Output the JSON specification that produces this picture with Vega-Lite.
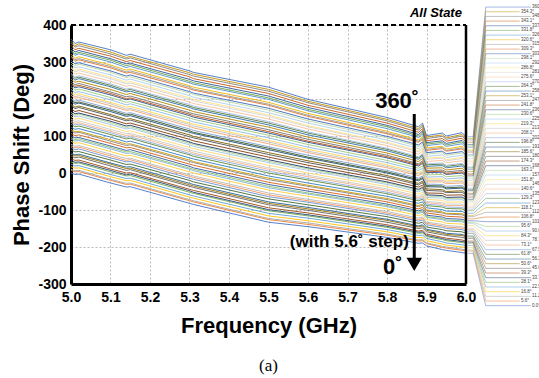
{
"$schema":"https://vega.github.io/schema/vega-lite/v6.json",
"width":395,"height":259,"autosize":"none",
"padding":{"left":71,"top":25,"right":73,"bottom":94},
"background":"white",
"title":{"text":"(a)","orient":"bottom","font":"Liberation Serif","fontSize":17,"fontWeight":"normal","color":"#000","offset":22,"anchor":"middle"},
"config":{"view":{"stroke":null},"font":"Liberation Sans",
"axis":{"labelFont":"Liberation Sans","labelFontWeight":"bold","labelFontSize":14,"labelColor":"#000","labelOverlap":false,"titleFont":"Liberation Sans","titleFontWeight":"bold","titleFontSize":22,"titleColor":"#000","ticks":false,"domainColor":"#000","domainWidth":3,"gridColor":"#a8a8a8","gridDash":[2,2],"gridWidth":0.8}},
"resolve":{"axis":{"x":"independent","y":"independent"}},
"datasets":{
"phase":[
{"f":5.0,"p0":0,"p1":7,"p2":10,"p3":17,"p4":24,"p5":30,"p6":34,"p7":39,"p8":46,"p9":51,"p10":54,"p11":62,"p12":69,"p13":73,"p14":78,"p15":86,"p16":92,"p17":96,"p18":101,"p19":107,"p20":114,"p21":118,"p22":124,"p23":132,"p24":137,"p25":141,"p26":146,"p27":153,"p28":159,"p29":164,"p30":168,"p31":174,"p32":182,"p33":186,"p34":194,"p35":198,"p36":202,"p37":210,"p38":215,"p39":219,"p40":226,"p41":233,"p42":239,"p43":243,"p44":248,"p45":254,"p46":261,"p47":266,"p48":269,"p49":277,"p50":284,"p51":287,"p52":294,"p53":300,"p54":305,"p55":313,"p56":316,"p57":321,"p58":329,"p59":333,"p60":338,"p61":345,"p62":351,"p63":356,"p64":362},
{"f":5.01,"p0":-4,"p1":3,"p2":6,"p3":13,"p4":19,"p5":26,"p6":29,"p7":34,"p8":41,"p9":46,"p10":49,"p11":57,"p12":63,"p13":68,"p14":72,"p15":80,"p16":86,"p17":90,"p18":95,"p19":101,"p20":108,"p21":111,"p22":118,"p23":125,"p24":130,"p25":134,"p26":139,"p27":145,"p28":152,"p29":156,"p30":160,"p31":166,"p32":174,"p33":178,"p34":186,"p35":190,"p36":194,"p37":202,"p38":206,"p39":211,"p40":217,"p41":224,"p42":230,"p43":234,"p44":238,"p45":245,"p46":251,"p47":256,"p48":259,"p49":267,"p50":273,"p51":277,"p52":284,"p53":290,"p54":295,"p55":302,"p56":306,"p57":310,"p58":318,"p59":322,"p60":327,"p61":333,"p62":340,"p63":344,"p64":350},
{"f":5.02,"p0":-3,"p1":4,"p2":7,"p3":14,"p4":20,"p5":27,"p6":30,"p7":35,"p8":43,"p9":47,"p10":51,"p11":58,"p12":65,"p13":70,"p14":74,"p15":82,"p16":88,"p17":92,"p18":96,"p19":103,"p20":110,"p21":113,"p22":120,"p23":127,"p24":132,"p25":136,"p26":141,"p27":148,"p28":154,"p29":159,"p30":162,"p31":169,"p32":177,"p33":181,"p34":189,"p35":192,"p36":197,"p37":204,"p38":209,"p39":214,"p40":220,"p41":227,"p42":233,"p43":237,"p44":242,"p45":248,"p46":255,"p47":259,"p48":263,"p49":270,"p50":277,"p51":281,"p52":287,"p53":294,"p54":298,"p55":306,"p56":309,"p57":314,"p58":322,"p59":326,"p60":331,"p61":337,"p62":344,"p63":349,"p64":354},
{"f":5.1,"p0":-27,"p1":-20,"p2":-17,"p3":-10,"p4":-4,"p5":3,"p6":7,"p7":11,"p8":19,"p9":24,"p10":27,"p11":35,"p12":41,"p13":46,"p14":51,"p15":58,"p16":65,"p17":69,"p18":73,"p19":80,"p20":86,"p21":90,"p22":97,"p23":104,"p24":109,"p25":113,"p26":118,"p27":125,"p28":131,"p29":136,"p30":140,"p31":146,"p32":154,"p33":158,"p34":166,"p35":170,"p36":174,"p37":182,"p38":187,"p39":191,"p40":198,"p41":204,"p42":211,"p43":215,"p44":219,"p45":226,"p46":233,"p47":237,"p48":241,"p49":248,"p50":255,"p51":259,"p52":265,"p53":272,"p54":276,"p55":284,"p56":288,"p57":292,"p58":300,"p59":305,"p60":309,"p61":316,"p62":322,"p63":327,"p64":333},
{"f":5.14,"p0":-38,"p1":-31,"p2":-28,"p3":-21,"p4":-15,"p5":-8,"p6":-5,"p7":0,"p8":7,"p9":12,"p10":16,"p11":23,"p12":30,"p13":34,"p14":39,"p15":46,"p16":53,"p17":57,"p18":61,"p19":68,"p20":74,"p21":78,"p22":84,"p23":92,"p24":96,"p25":101,"p26":106,"p27":112,"p28":119,"p29":123,"p30":127,"p31":133,"p32":141,"p33":145,"p34":153,"p35":157,"p36":161,"p37":169,"p38":173,"p39":178,"p40":184,"p41":191,"p42":198,"p43":201,"p44":206,"p45":212,"p46":219,"p47":223,"p48":227,"p49":234,"p50":241,"p51":245,"p52":251,"p53":258,"p54":262,"p55":270,"p56":273,"p57":278,"p58":285,"p59":290,"p60":295,"p61":301,"p62":308,"p63":312,"p64":318},
{"f":5.15,"p0":-37,"p1":-30,"p2":-27,"p3":-20,"p4":-14,"p5":-7,"p6":-3,"p7":1,"p8":9,"p9":13,"p10":17,"p11":24,"p12":31,"p13":36,"p14":40,"p15":48,"p16":54,"p17":58,"p18":63,"p19":69,"p20":76,"p21":79,"p22":86,"p23":94,"p24":98,"p25":103,"p26":107,"p27":114,"p28":121,"p29":125,"p30":129,"p31":135,"p32":143,"p33":147,"p34":155,"p35":159,"p36":163,"p37":171,"p38":175,"p39":180,"p40":187,"p41":193,"p42":200,"p43":203,"p44":208,"p45":215,"p46":221,"p47":226,"p48":229,"p49":237,"p50":243,"p51":247,"p52":254,"p53":260,"p54":265,"p55":272,"p56":276,"p57":281,"p58":288,"p59":293,"p60":297,"p61":304,"p62":311,"p63":315,"p64":321},
{"f":5.3,"p0":-82,"p1":-75,"p2":-72,"p3":-65,"p4":-59,"p5":-52,"p6":-48,"p7":-44,"p8":-36,"p9":-32,"p10":-28,"p11":-20,"p12":-14,"p13":-9,"p14":-5,"p15":3,"p16":10,"p17":13,"p18":18,"p19":24,"p20":31,"p21":35,"p22":41,"p23":49,"p24":53,"p25":58,"p26":63,"p27":69,"p28":76,"p29":80,"p30":84,"p31":91,"p32":98,"p33":103,"p34":110,"p35":114,"p36":119,"p37":126,"p38":131,"p39":135,"p40":142,"p41":149,"p42":155,"p43":159,"p44":163,"p45":170,"p46":177,"p47":181,"p48":185,"p49":192,"p50":199,"p51":203,"p52":209,"p53":216,"p54":220,"p55":228,"p56":232,"p57":236,"p58":244,"p59":248,"p60":253,"p61":260,"p62":266,"p63":271,"p64":276},
{"f":5.31,"p0":-85,"p1":-78,"p2":-75,"p3":-68,"p4":-62,"p5":-55,"p6":-52,"p7":-47,"p8":-39,"p9":-35,"p10":-31,"p11":-24,"p12":-17,"p13":-12,"p14":-8,"p15":0,"p16":6,"p17":10,"p18":14,"p19":21,"p20":28,"p21":31,"p22":38,"p23":45,"p24":50,"p25":54,"p26":59,"p27":66,"p28":72,"p29":77,"p30":80,"p31":87,"p32":95,"p33":99,"p34":107,"p35":110,"p36":115,"p37":122,"p38":127,"p39":132,"p40":138,"p41":145,"p42":151,"p43":155,"p44":160,"p45":166,"p46":173,"p47":177,"p48":181,"p49":188,"p50":195,"p51":199,"p52":205,"p53":212,"p54":216,"p55":224,"p56":227,"p57":232,"p58":240,"p59":244,"p60":249,"p61":255,"p62":262,"p63":267,"p64":272},
{"f":5.5,"p0":-133,"p1":-126,"p2":-123,"p3":-116,"p4":-109,"p5":-102,"p6":-99,"p7":-94,"p8":-86,"p9":-82,"p10":-78,"p11":-70,"p12":-64,"p13":-59,"p14":-54,"p15":-46,"p16":-40,"p17":-36,"p18":-31,"p19":-25,"p20":-18,"p21":-14,"p22":-8,"p23":0,"p24":5,"p25":10,"p26":14,"p27":21,"p28":28,"p29":32,"p30":36,"p31":43,"p32":50,"p33":55,"p34":63,"p35":67,"p36":71,"p37":79,"p38":84,"p39":88,"p40":95,"p41":102,"p42":108,"p43":112,"p44":117,"p45":124,"p46":130,"p47":135,"p48":139,"p49":146,"p50":153,"p51":157,"p52":163,"p53":170,"p54":175,"p55":183,"p56":186,"p57":191,"p58":199,"p59":203,"p60":208,"p61":215,"p62":221,"p63":226,"p64":232},
{"f":5.6,"p0":-145,"p1":-139,"p2":-135,"p3":-129,"p4":-122,"p5":-116,"p6":-113,"p7":-108,"p8":-101,"p9":-97,"p10":-93,"p11":-86,"p12":-79,"p13":-75,"p14":-71,"p15":-63,"p16":-57,"p17":-54,"p18":-49,"p19":-43,"p20":-36,"p21":-33,"p22":-27,"p23":-19,"p24":-15,"p25":-10,"p26":-6,"p27":0,"p28":7,"p29":11,"p30":14,"p31":21,"p32":28,"p33":33,"p34":40,"p35":43,"p36":48,"p37":55,"p38":59,"p39":64,"p40":70,"p41":77,"p42":83,"p43":86,"p44":91,"p45":97,"p46":103,"p47":108,"p48":111,"p49":119,"p50":125,"p51":128,"p52":135,"p53":141,"p54":146,"p55":153,"p56":156,"p57":161,"p58":168,"p59":172,"p60":177,"p61":183,"p62":190,"p63":194,"p64":199},
{"f":5.8,"p0":-174,"p1":-168,"p2":-165,"p3":-159,"p4":-153,"p5":-147,"p6":-144,"p7":-140,"p8":-133,"p9":-128,"p10":-125,"p11":-118,"p12":-112,"p13":-108,"p14":-104,"p15":-97,"p16":-91,"p17":-88,"p18":-84,"p19":-78,"p20":-72,"p21":-69,"p22":-63,"p23":-56,"p24":-52,"p25":-47,"p26":-43,"p27":-37,"p28":-31,"p29":-27,"p30":-24,"p31":-18,"p32":-11,"p33":-7,"p34":0,"p35":3,"p36":7,"p37":14,"p38":18,"p39":22,"p40":28,"p41":34,"p42":41,"p43":44,"p44":48,"p45":54,"p46":60,"p47":64,"p48":67,"p49":74,"p50":80,"p51":83,"p52":89,"p53":95,"p54":99,"p55":106,"p56":109,"p57":113,"p58":120,"p59":125,"p60":129,"p61":135,"p62":141,"p63":145,"p64":150},
{"f":5.88,"p0":-190,"p1":-184,"p2":-181,"p3":-175,"p4":-169,"p5":-163,"p6":-160,"p7":-157,"p8":-150,"p9":-146,"p10":-143,"p11":-136,"p12":-130,"p13":-126,"p14":-122,"p15":-115,"p16":-109,"p17":-106,"p18":-102,"p19":-97,"p20":-91,"p21":-88,"p22":-82,"p23":-75,"p24":-71,"p25":-67,"p26":-63,"p27":-57,"p28":-51,"p29":-47,"p30":-44,"p31":-38,"p32":-32,"p33":-28,"p34":-21,"p35":-18,"p36":-14,"p37":-7,"p38":-3,"p39":1,"p40":7,"p41":13,"p42":19,"p43":22,"p44":25,"p45":31,"p46":37,"p47":41,"p48":44,"p49":51,"p50":57,"p51":60,"p52":66,"p53":72,"p54":76,"p55":83,"p56":86,"p57":89,"p58":96,"p59":100,"p60":104,"p61":110,"p62":116,"p63":120,"p64":125},
{"f":5.89,"p0":-189,"p1":-183,"p2":-180,"p3":-174,"p4":-168,"p5":-162,"p6":-159,"p7":-155,"p8":-148,"p9":-143,"p10":-140,"p11":-133,"p12":-127,"p13":-123,"p14":-119,"p15":-112,"p16":-106,"p17":-103,"p18":-99,"p19":-93,"p20":-87,"p21":-84,"p22":-78,"p23":-71,"p24":-67,"p25":-62,"p26":-58,"p27":-52,"p28":-46,"p29":-42,"p30":-39,"p31":-33,"p32":-26,"p33":-22,"p34":-15,"p35":-12,"p36":-8,"p37":-1,"p38":3,"p39":7,"p40":13,"p41":19,"p42":26,"p43":29,"p44":33,"p45":39,"p46":45,"p47":49,"p48":52,"p49":59,"p50":65,"p51":68,"p52":74,"p53":80,"p54":84,"p55":91,"p56":94,"p57":98,"p58":105,"p59":110,"p60":114,"p61":120,"p62":126,"p63":130,"p64":135},
{"f":5.9,"p0":-197,"p1":-191,"p2":-189,"p3":-183,"p4":-177,"p5":-172,"p6":-169,"p7":-165,"p8":-159,"p9":-155,"p10":-152,"p11":-146,"p12":-140,"p13":-136,"p14":-133,"p15":-126,"p16":-120,"p17":-118,"p18":-114,"p19":-108,"p20":-103,"p21":-100,"p22":-94,"p23":-88,"p24":-84,"p25":-80,"p26":-77,"p27":-71,"p28":-66,"p29":-62,"p30":-59,"p31":-54,"p32":-47,"p33":-43,"p34":-37,"p35":-34,"p36":-30,"p37":-24,"p38":-20,"p39":-16,"p40":-11,"p41":-5,"p42":1,"p43":3,"p44":7,"p45":13,"p46":18,"p47":22,"p48":25,"p49":31,"p50":37,"p51":40,"p52":45,"p53":51,"p54":55,"p55":61,"p56":64,"p57":68,"p58":74,"p59":78,"p60":82,"p61":87,"p62":93,"p63":97,"p64":101},
{"f":5.94,"p0":-207,"p1":-201,"p2":-198,"p3":-192,"p4":-186,"p5":-180,"p6":-177,"p7":-174,"p8":-167,"p9":-163,"p10":-160,"p11":-153,"p12":-147,"p13":-143,"p14":-139,"p15":-132,"p16":-126,"p17":-123,"p18":-119,"p19":-114,"p20":-108,"p21":-105,"p22":-99,"p23":-92,"p24":-88,"p25":-84,"p26":-80,"p27":-74,"p28":-68,"p29":-64,"p30":-61,"p31":-55,"p32":-49,"p33":-45,"p34":-38,"p35":-35,"p36":-31,"p37":-24,"p38":-20,"p39":-16,"p40":-10,"p41":-4,"p42":2,"p43":5,"p44":8,"p45":14,"p46":20,"p47":24,"p48":27,"p49":34,"p50":40,"p51":43,"p52":49,"p53":55,"p54":59,"p55":66,"p56":69,"p57":72,"p58":79,"p59":83,"p60":87,"p61":93,"p62":99,"p63":103,"p64":108},
{"f":5.95,"p0":-209,"p1":-203,"p2":-200,"p3":-195,"p4":-189,"p5":-183,"p6":-180,"p7":-176,"p8":-169,"p9":-166,"p10":-163,"p11":-156,"p12":-150,"p13":-146,"p14":-142,"p15":-136,"p16":-130,"p17":-127,"p18":-123,"p19":-117,"p20":-111,"p21":-109,"p22":-103,"p23":-96,"p24":-92,"p25":-88,"p26":-84,"p27":-79,"p28":-73,"p29":-69,"p30":-66,"p31":-60,"p32":-53,"p33":-50,"p34":-43,"p35":-40,"p36":-36,"p37":-29,"p38":-25,"p39":-22,"p40":-16,"p41":-10,"p42":-4,"p43":-1,"p44":3,"p45":8,"p46":14,"p47":18,"p48":21,"p49":28,"p50":33,"p51":36,"p52":42,"p53":48,"p54":52,"p55":59,"p56":61,"p57":65,"p58":72,"p59":76,"p60":80,"p61":86,"p62":91,"p63":95,"p64":100},
{"f":5.99,"p0":-215,"p1":-209,"p2":-206,"p3":-200,"p4":-194,"p5":-188,"p6":-185,"p7":-181,"p8":-174,"p9":-169,"p10":-166,"p11":-159,"p12":-153,"p13":-149,"p14":-145,"p15":-138,"p16":-132,"p17":-129,"p18":-125,"p19":-119,"p20":-113,"p21":-110,"p22":-104,"p23":-97,"p24":-93,"p25":-88,"p26":-84,"p27":-78,"p28":-72,"p29":-68,"p30":-65,"p31":-59,"p32":-52,"p33":-48,"p34":-41,"p35":-38,"p36":-34,"p37":-27,"p38":-23,"p39":-19,"p40":-13,"p41":-7,"p42":0,"p43":3,"p44":7,"p45":13,"p46":19,"p47":23,"p48":26,"p49":33,"p50":39,"p51":42,"p52":48,"p53":54,"p54":58,"p55":65,"p56":68,"p57":72,"p58":79,"p59":84,"p60":88,"p61":94,"p62":100,"p63":104,"p64":109},
{"f":6.0,"p0":-217,"p1":-211,"p2":-208,"p3":-202,"p4":-196,"p5":-190,"p6":-187,"p7":-184,"p8":-177,"p9":-173,"p10":-170,"p11":-163,"p12":-157,"p13":-153,"p14":-149,"p15":-142,"p16":-136,"p17":-133,"p18":-129,"p19":-124,"p20":-118,"p21":-115,"p22":-109,"p23":-102,"p24":-98,"p25":-94,"p26":-90,"p27":-84,"p28":-78,"p29":-74,"p30":-71,"p31":-65,"p32":-59,"p33":-55,"p34":-48,"p35":-45,"p36":-41,"p37":-34,"p38":-30,"p39":-26,"p40":-20,"p41":-14,"p42":-8,"p43":-5,"p44":-2,"p45":4,"p46":10,"p47":14,"p48":17,"p49":24,"p50":30,"p51":33,"p52":39,"p53":45,"p54":49,"p55":56,"p56":59,"p57":62,"p58":69,"p59":73,"p60":77,"p61":83,"p62":89,"p63":93,"p64":98}
],
"states":[
{"key":"p0","k":0,"label":"0.0°"},{"key":"p1","k":1,"label":"5.6°"},{"key":"p2","k":2,"label":"11.2°"},{"key":"p3","k":3,"label":"16.8°"},{"key":"p4","k":4,"label":"22.5°"},{"key":"p5","k":5,"label":"28.1°"},{"key":"p6","k":6,"label":"33.7°"},{"key":"p7","k":7,"label":"39.3°"},{"key":"p8","k":8,"label":"45.0°"},{"key":"p9","k":9,"label":"50.6°"},
{"key":"p10","k":10,"label":"56.2°"},{"key":"p11","k":11,"label":"61.8°"},{"key":"p12","k":12,"label":"67.5°"},{"key":"p13","k":13,"label":"73.1°"},{"key":"p14","k":14,"label":"78.7°"},{"key":"p15","k":15,"label":"84.3°"},{"key":"p16","k":16,"label":"90.0°"},{"key":"p17","k":17,"label":"95.6°"},{"key":"p18","k":18,"label":"101.2°"},{"key":"p19","k":19,"label":"106.8°"},
{"key":"p20","k":20,"label":"112.5°"},{"key":"p21","k":21,"label":"118.1°"},{"key":"p22","k":22,"label":"123.7°"},{"key":"p23","k":23,"label":"129.3°"},{"key":"p24","k":24,"label":"135.0°"},{"key":"p25","k":25,"label":"140.6°"},{"key":"p26","k":26,"label":"146.2°"},{"key":"p27","k":27,"label":"151.8°"},{"key":"p28","k":28,"label":"157.5°"},{"key":"p29","k":29,"label":"163.1°"},
{"key":"p30","k":30,"label":"168.7°"},{"key":"p31","k":31,"label":"174.3°"},{"key":"p32","k":32,"label":"180.0°"},{"key":"p33","k":33,"label":"185.6°"},{"key":"p34","k":34,"label":"191.2°"},{"key":"p35","k":35,"label":"196.8°"},{"key":"p36","k":36,"label":"202.5°"},{"key":"p37","k":37,"label":"208.1°"},{"key":"p38","k":38,"label":"213.7°"},{"key":"p39","k":39,"label":"219.3°"},
{"key":"p40","k":40,"label":"225.0°"},{"key":"p41","k":41,"label":"230.6°"},{"key":"p42","k":42,"label":"236.2°"},{"key":"p43","k":43,"label":"241.8°"},{"key":"p44","k":44,"label":"247.5°"},{"key":"p45","k":45,"label":"253.1°"},{"key":"p46","k":46,"label":"258.7°"},{"key":"p47","k":47,"label":"264.3°"},{"key":"p48","k":48,"label":"270.0°"},{"key":"p49","k":49,"label":"275.6°"},
{"key":"p50","k":50,"label":"281.2°"},{"key":"p51","k":51,"label":"286.8°"},{"key":"p52","k":52,"label":"292.5°"},{"key":"p53","k":53,"label":"298.1°"},{"key":"p54","k":54,"label":"303.7°"},{"key":"p55","k":55,"label":"309.3°"},{"key":"p56","k":56,"label":"315.0°"},{"key":"p57","k":57,"label":"320.6°"},{"key":"p58","k":58,"label":"326.2°"},{"key":"p59","k":59,"label":"331.8°"},
{"key":"p60","k":60,"label":"337.5°"},{"key":"p61","k":61,"label":"343.1°"},{"key":"p62","k":62,"label":"348.7°"},{"key":"p63","k":63,"label":"354.3°"},{"key":"p64","k":64,"label":"360.0°"}
]
},
"layer":[
{"data":{"name":"phase"},
"transform":[{"fold":["p0","p1","p2","p3","p4","p5","p6","p7","p8","p9","p10","p11","p12","p13","p14","p15","p16","p17","p18","p19","p20","p21","p22","p23","p24","p25","p26","p27","p28","p29","p30","p31","p32","p33","p34","p35","p36","p37","p38","p39","p40","p41","p42","p43","p44","p45","p46","p47","p48","p49","p50","p51","p52","p53","p54","p55","p56","p57","p58","p59","p60","p61","p62","p63","p64"],"as":["key","v"]}],
"mark":{"type":"line","strokeWidth":0.9},
"encoding":{
"x":{"field":"f","type":"quantitative","scale":{"domain":[5,6],"nice":false,"zero":false},
"axis":{"values":[5,5.1,5.2,5.3,5.4,5.5,5.6,5.7,5.8,5.9,6],"labelExpr":"format(datum.value, '.1f')","labelFlush":false,"labelOverlap":false,"labelBound":false,"labelPadding":6,"grid":true,"title":"Frequency (GHz)","titlePadding":11}},
"y":{"field":"v","type":"quantitative","scale":{"domain":[-300,400],"nice":false,"zero":false},
"axis":{"values":[-300,-200,-100,0,100,200,300,400],"labelExpr":"datum.value < 0 ? '-' + abs(datum.value) : '' + datum.value","labelOverlap":false,"labelBound":false,"labelPadding":5,"grid":true,"title":"Phase Shift (Deg)","titlePadding":4}},
"color":{"field":"key","type":"nominal","legend":null,
"scale":{"domain":["p0","p1","p2","p3","p4","p5","p6","p7","p8","p9","p10","p11","p12","p13","p14","p15","p16","p17","p18","p19","p20","p21","p22","p23","p24","p25","p26","p27","p28","p29","p30","p31","p32","p33","p34","p35","p36","p37","p38","p39","p40","p41","p42","p43","p44","p45","p46","p47","p48","p49","p50","p51","p52","p53","p54","p55","p56","p57","p58","p59","p60","p61","p62","p63","p64"],
"range":["#4472C4","#ED7D31","#A5A5A5","#FFC000","#5B9BD5","#70AD47","#264478","#9E480E","#636363","#997300","#255E91","#43682B","#698ED0","#F1975A","#B7B7B7","#FFCD33","#7CAFDD","#8CC168","#335AA1","#D26012","#848484","#CC9A00","#317DC2","#5A8A39","#8FAADC","#F4B183","#C9C9C9","#FFD966","#9DC3E6","#A9D18E","#203864","#843C0C","#525252","#7F6000","#1F4E79","#385723","#7C9DD6","#F2A46F","#C0C0C0","#FFD34D","#8CB9E2","#9AC97B","#2C508D","#B85410","#737373","#B38600","#2B6DA9","#4F7932","#A2B9E2","#F6BE98","#D2D2D2","#FFE080","#ADCDEA","#B7D8A1","#3C68B8","#DE7330","#999999","#EDB300","#5290CA","#67A142","#2F5597","#C55A11","#7F7F7F","#BF9000","#4472C4"]}}}},
{"data":{"name":"phase"},
"transform":[{"fold":["p0","p1","p2","p3","p4","p5","p6","p7","p8","p9","p10","p11","p12","p13","p14","p15","p16","p17","p18","p19","p20","p21","p22","p23","p24","p25","p26","p27","p28","p29","p30","p31","p32","p33","p34","p35","p36","p37","p38","p39","p40","p41","p42","p43","p44","p45","p46","p47","p48","p49","p50","p51","p52","p53","p54","p55","p56","p57","p58","p59","p60","p61","p62","p63","p64"],"as":["key","v"]},
{"filter":"datum.f == 6"},
{"lookup":"key","from":{"data":{"name":"states"},"key":"key","fields":["k","label"]}},
{"calculate":"-358.6 + datum.k * 12.61","as":"ly"},
{"calculate":"6.005","as":"xa"},
{"calculate":"6.018","as":"xb"},
{"calculate":"6.05","as":"xc"},
{"calculate":"datum.k % 2 == 1 ? 6.139 : 6.167","as":"lx"},
{"calculate":"datum.lx - 0.003","as":"lxe"}],
"layer":[
{"mark":{"type":"rule","strokeWidth":0.7,"opacity":0.7},"encoding":{"x":{"field":"xa","type":"quantitative","axis":null},"x2":{"field":"xb"},"y":{"field":"v","type":"quantitative","axis":null},"color":{"field":"key","type":"nominal","legend":null}}},
{"mark":{"type":"rule","strokeWidth":0.7,"opacity":0.7},"encoding":{"x":{"field":"xb","type":"quantitative","axis":null},"x2":{"field":"xc"},"y":{"field":"v","type":"quantitative","axis":null},"y2":{"field":"ly"},"color":{"field":"key","type":"nominal","legend":null}}},
{"mark":{"type":"rule","strokeWidth":0.7,"opacity":0.7},"encoding":{"x":{"field":"xc","type":"quantitative","axis":null},"x2":{"field":"lxe"},"y":{"field":"ly","type":"quantitative","axis":null},"color":{"field":"key","type":"nominal","legend":null}}},
{"mark":{"type":"text","align":"left","baseline":"middle","fontSize":4.5,"color":"#444"},"encoding":{"x":{"field":"lx","type":"quantitative","axis":null},"y":{"field":"ly","type":"quantitative","axis":null},"text":{"field":"label","type":"nominal"}}}
]},
{"data":{"values":[{}]},
"layer":[
{"mark":{"type":"rule","strokeDash":[5,3],"strokeWidth":2,"color":"#000"},"encoding":{"x":{"datum":5,"type":"quantitative","axis":null},"x2":{"datum":6},"y":{"datum":400,"type":"quantitative","axis":null}}},
{"mark":{"type":"rule","strokeWidth":2.5,"color":"#000"},"encoding":{"x":{"datum":6,"type":"quantitative","axis":null},"y":{"datum":-300,"type":"quantitative","axis":null},"y2":{"datum":400}}},
{"mark":{"type":"rule","strokeWidth":3,"color":"#000"},"encoding":{"x":{"datum":5.869,"type":"quantitative","axis":null},"y":{"datum":159.5,"type":"quantitative","axis":null},"y2":{"datum":-242}}},
{"mark":{"type":"point","shape":"triangle-down","filled":true,"size":240,"color":"#000","opacity":1},"encoding":{"x":{"datum":5.869,"type":"quantitative","axis":null},"y":{"datum":-247,"type":"quantitative","axis":null}}},
{"mark":{"type":"text","text":"360˚","align":"left","baseline":"alphabetic","fontSize":22,"fontWeight":"bold","color":"#000"},"encoding":{"x":{"datum":5.77,"type":"quantitative","axis":null},"y":{"datum":175.7,"type":"quantitative","axis":null}}},
{"mark":{"type":"text","text":"(with 5.6˚ step)","align":"left","baseline":"alphabetic","fontSize":17,"fontWeight":"bold","color":"#000"},"encoding":{"x":{"datum":5.554,"type":"quantitative","axis":null},"y":{"datum":-200,"type":"quantitative","axis":null}}},
{"mark":{"type":"text","text":"0˚","align":"left","baseline":"alphabetic","fontSize":22,"fontWeight":"bold","color":"#000"},"encoding":{"x":{"datum":5.79,"type":"quantitative","axis":null},"y":{"datum":-273,"type":"quantitative","axis":null}}},
{"mark":{"type":"text","text":"All State","align":"left","baseline":"alphabetic","fontSize":13,"fontWeight":"bold","fontStyle":"italic","color":"#000"},"encoding":{"x":{"datum":5.858,"type":"quantitative","axis":null},"y":{"datum":421.6,"type":"quantitative","axis":null}}}
]}
]
}
